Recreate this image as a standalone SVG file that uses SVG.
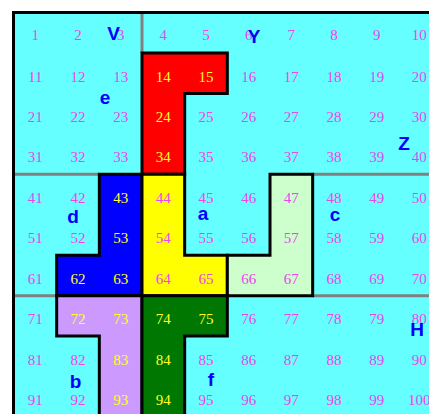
<svg xmlns="http://www.w3.org/2000/svg" width="429" height="414" viewBox="0 0 429 414">
<style>
.n{font-family:"Liberation Serif",serif;font-size:15px;text-anchor:middle;fill:#ee44ee}
.y{fill:#ffff22}
.L{font-family:"Liberation Sans",Arial,sans-serif;font-size:19px;font-weight:bold;fill:#0000ff;text-anchor:middle}
.reg{stroke:#000;stroke-width:3;stroke-linejoin:miter}
.g{stroke:#808080;stroke-width:3;fill:none}
</style>
<rect x="0" y="0" width="429" height="414" fill="#ffffff"/>
<rect x="14" y="12.5" width="430" height="410" fill="#66ffff"/>
<g id="gridlines">
<line class="g" x1="142" y1="14" x2="142" y2="53"/>
<line class="g" x1="14" y1="174.3" x2="99.3" y2="174.3"/>
<line class="g" x1="312.7" y1="174.3" x2="429" y2="174.3"/>
<line class="g" x1="14" y1="295.65" x2="56.7" y2="295.65"/>
<line class="g" x1="312.7" y1="295.65" x2="429" y2="295.65"/>
</g>
<g id="regions">
<polygon id="red" class="reg" fill="#ff0000" points="142,52.95 227.33,52.95 227.33,93.4 184.67,93.4 184.67,174.3 142,174.3"/>
<polygon id="blue" class="reg" fill="#0000ff" points="99.33,174.3 142,174.3 142,295.65 56.67,295.65 56.67,255.2 99.33,255.2"/>
<polygon id="yellow" class="reg" fill="#ffff00" points="142,174.3 184.67,174.3 184.67,255.2 227.33,255.2 227.33,295.65 142,295.65"/>
<polygon id="lightgreen" class="reg" fill="#ccffcc" points="270,174.3 312.67,174.3 312.67,295.65 227.33,295.65 227.33,255.2 270,255.2"/>
<polygon id="lavender" class="reg" fill="#cc99ff" points="56.67,295.65 142,295.65 142,420 99.33,420 99.33,336.1 56.67,336.1"/>
<polygon id="green" class="reg" fill="#007700" points="142,295.65 227.33,295.65 227.33,336.1 184.67,336.1 184.67,420 142,420"/>
</g>
<path id="border" d="M13.5,420 V12.5 H432" fill="none" stroke="#000" stroke-width="3"/>
<g id="numbers">
<text class="n" x="35.3" y="40">1</text><text class="n" x="78" y="40">2</text><text class="n" x="120.7" y="40">3</text><text class="n" x="163.3" y="40">4</text><text class="n" x="206" y="40">5</text><text class="n" x="248.7" y="40">6</text><text class="n" x="291.3" y="40">7</text><text class="n" x="334" y="40">8</text><text class="n" x="376.7" y="40">9</text><text class="n" x="419.3" y="40">10</text>
<text class="n" x="35.3" y="81.5">11</text><text class="n" x="78" y="81.5">12</text><text class="n" x="120.7" y="81.5">13</text><text class="n y" x="163.3" y="81.5">14</text><text class="n y" x="206" y="81.5">15</text><text class="n" x="248.7" y="81.5">16</text><text class="n" x="291.3" y="81.5">17</text><text class="n" x="334" y="81.5">18</text><text class="n" x="376.7" y="81.5">19</text><text class="n" x="419.3" y="81.5">20</text>
<text class="n" x="35.3" y="121.9">21</text><text class="n" x="78" y="121.9">22</text><text class="n" x="120.7" y="121.9">23</text><text class="n y" x="163.3" y="121.9">24</text><text class="n" x="206" y="121.9">25</text><text class="n" x="248.7" y="121.9">26</text><text class="n" x="291.3" y="121.9">27</text><text class="n" x="334" y="121.9">28</text><text class="n" x="376.7" y="121.9">29</text><text class="n" x="419.3" y="121.9">30</text>
<text class="n" x="35.3" y="162.3">31</text><text class="n" x="78" y="162.3">32</text><text class="n" x="120.7" y="162.3">33</text><text class="n y" x="163.3" y="162.3">34</text><text class="n" x="206" y="162.3">35</text><text class="n" x="248.7" y="162.3">36</text><text class="n" x="291.3" y="162.3">37</text><text class="n" x="334" y="162.3">38</text><text class="n" x="376.7" y="162.3">39</text><text class="n" x="419.3" y="162.3">40</text>
<text class="n" x="35.3" y="202.8">41</text><text class="n" x="78" y="202.8">42</text><text class="n y" x="120.7" y="202.8">43</text><text class="n" x="163.3" y="202.8">44</text><text class="n" x="206" y="202.8">45</text><text class="n" x="248.7" y="202.8">46</text><text class="n" x="291.3" y="202.8">47</text><text class="n" x="334" y="202.8">48</text><text class="n" x="376.7" y="202.8">49</text><text class="n" x="419.3" y="202.8">50</text>
<text class="n" x="35.3" y="243.2">51</text><text class="n" x="78" y="243.2">52</text><text class="n y" x="120.7" y="243.2">53</text><text class="n" x="163.3" y="243.2">54</text><text class="n" x="206" y="243.2">55</text><text class="n" x="248.7" y="243.2">56</text><text class="n" x="291.3" y="243.2">57</text><text class="n" x="334" y="243.2">58</text><text class="n" x="376.7" y="243.2">59</text><text class="n" x="419.3" y="243.2">60</text>
<text class="n" x="35.3" y="283.7">61</text><text class="n y" x="78" y="283.7">62</text><text class="n y" x="120.7" y="283.7">63</text><text class="n" x="163.3" y="283.7">64</text><text class="n" x="206" y="283.7">65</text><text class="n" x="248.7" y="283.7">66</text><text class="n" x="291.3" y="283.7">67</text><text class="n" x="334" y="283.7">68</text><text class="n" x="376.7" y="283.7">69</text><text class="n" x="419.3" y="283.7">70</text>
<text class="n" x="35.3" y="324.1">71</text><text class="n y" x="78" y="324.1">72</text><text class="n y" x="120.7" y="324.1">73</text><text class="n y" x="163.3" y="324.1">74</text><text class="n y" x="206" y="324.1">75</text><text class="n" x="248.7" y="324.1">76</text><text class="n" x="291.3" y="324.1">77</text><text class="n" x="334" y="324.1">78</text><text class="n" x="376.7" y="324.1">79</text><text class="n" x="419.3" y="324.1">80</text>
<text class="n" x="35.3" y="364.6">81</text><text class="n" x="78" y="364.6">82</text><text class="n y" x="120.7" y="364.6">83</text><text class="n y" x="163.3" y="364.6">84</text><text class="n" x="206" y="364.6">85</text><text class="n" x="248.7" y="364.6">86</text><text class="n" x="291.3" y="364.6">87</text><text class="n" x="334" y="364.6">88</text><text class="n" x="376.7" y="364.6">89</text><text class="n" x="419.3" y="364.6">90</text>
<text class="n" x="35.3" y="405">91</text><text class="n" x="78" y="405">92</text><text class="n y" x="120.7" y="405">93</text><text class="n y" x="163.3" y="405">94</text><text class="n" x="206" y="405">95</text><text class="n" x="248.7" y="405">96</text><text class="n" x="291.3" y="405">97</text><text class="n" x="334" y="405">98</text><text class="n" x="376.7" y="405">99</text><text class="n" x="419.3" y="405">100</text>
</g>
<g id="letters">
<text class="L" x="113.5" y="40">V</text>
<text class="L" x="254" y="43">Y</text>
<text class="L" x="105" y="104">e</text>
<text class="L" x="404" y="150">Z</text>
<text class="L" x="73" y="223">d</text>
<text class="L" x="203" y="220">a</text>
<text class="L" x="335" y="221">c</text>
<text class="L" x="417" y="336">H</text>
<text class="L" x="75.5" y="388">b</text>
<text class="L" x="211" y="386">f</text>
</g>
</svg>
